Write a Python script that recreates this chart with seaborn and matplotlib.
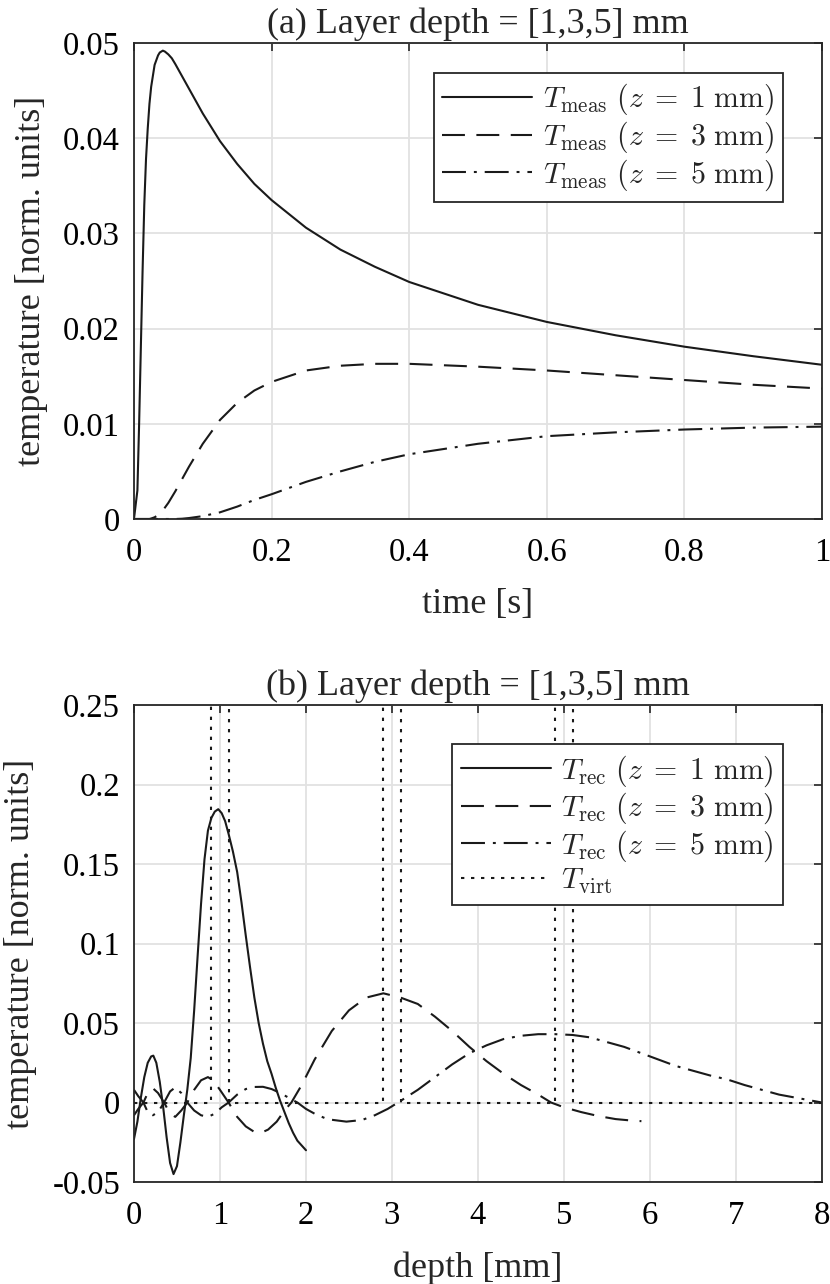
import matplotlib
matplotlib.use('Agg')
import matplotlib.pyplot as plt
import seaborn as sns
import pandas as pd
import numpy as np

time_s = [0, 0.005, 0.0075, 0.01, 0.0125, 0.015, 0.0175, 0.02, 0.0225, 0.025,
          0.03, 0.035, 0.0375, 0.042, 0.045, 0.05, 0.055, 0.06, 0.07, 0.08,
          0.1, 0.125, 0.15, 0.175, 0.2, 0.25, 0.3, 0.35, 0.4, 0.5,
          0.6, 0.7, 0.8, 0.9, 1.0]
t_meas_1mm = [0, 0.003, 0.010, 0.018, 0.026, 0.033, 0.0378, 0.041, 0.0436, 0.0454,
              0.0477, 0.0487, 0.0490, 0.0492, 0.0491, 0.0488, 0.0484, 0.0478, 0.0465, 0.0452,
              0.0426, 0.0397, 0.0373, 0.0352, 0.0335, 0.0306, 0.0283, 0.0265, 0.0249, 0.0225,
              0.0207, 0.0193, 0.0181, 0.0171, 0.0162]
t_meas_3mm = [0, 0, 0, 0, 0, 0, 0, 0, 0, 0.00005,
              0.00018, 0.0004, 0.0006, 0.0009, 0.0012, 0.0017, 0.0023, 0.0029, 0.0042, 0.0055,
              0.0079, 0.0104, 0.0122, 0.0135, 0.0144, 0.0156, 0.0161, 0.0163, 0.0163, 0.0160,
              0.0156, 0.0151, 0.0146, 0.0141, 0.0137]
t_meas_5mm = [0, 0, 0, 0, 0, 0, 0, 0, 0, 0,
              0, 0, 0, 0, 0, 0, 0, 0, 0.00003, 0.0001,
              0.0003, 0.0007, 0.0013, 0.0020, 0.0026, 0.0039, 0.0050, 0.0060, 0.0068, 0.0079,
              0.0087, 0.0091, 0.0094, 0.0096, 0.0097]

# (b) reconstructed temperature vs depth
depth_1mm = [0.0, 0.04, 0.08, 0.12, 0.16, 0.20, 0.225, 0.26, 0.30, 0.34, 0.38, 0.42,
             0.46, 0.50, 0.54, 0.58, 0.62, 0.66, 0.70, 0.74, 0.78, 0.82, 0.86, 0.90,
             0.94, 0.98, 1.02, 1.06, 1.10, 1.15, 1.20, 1.25, 1.30, 1.35, 1.40, 1.45,
             1.50, 1.55, 1.60, 1.65, 1.70, 1.75, 1.80, 1.85, 1.90, 1.95, 2.00]
t_rec_1mm = [-0.023, -0.012, 0.003, 0.016, 0.025, 0.029, 0.0295, 0.025, 0.013, -0.003, -0.022, -0.038,
             -0.045, -0.040, -0.025, -0.008, 0.008, 0.028, 0.058, 0.092, 0.125, 0.153, 0.171, 0.179,
             0.183, 0.1845, 0.182, 0.177, 0.169, 0.158, 0.145, 0.126, 0.105, 0.085, 0.066, 0.050,
             0.037, 0.026, 0.018, 0.009, 0.001, -0.006, -0.013, -0.019, -0.024, -0.027, -0.030]
depth_3mm = [0.0, 0.05, 0.11, 0.16, 0.22, 0.28, 0.35, 0.42, 0.48, 0.55, 0.62, 0.70,
             0.78, 0.86, 0.92, 1.00, 1.10, 1.20, 1.30, 1.40, 1.48, 1.56, 1.66, 1.75,
             1.83, 1.95, 2.1, 2.3, 2.5, 2.7, 2.9, 3.1, 3.3, 3.5, 3.7, 3.9,
             4.1, 4.3, 4.5, 4.7, 4.85, 5.0, 5.2, 5.4, 5.6, 5.8, 5.9]
t_rec_3mm = [-0.008, -0.004, 0.000, 0.006, 0.009, 0.006, 0.000, -0.007, -0.009, -0.005, 0.000, 0.008,
             0.014, 0.016, 0.014, 0.008, 0.000, -0.009, -0.015, -0.0185, -0.019, -0.017, -0.012, -0.005,
             0.000, 0.011, 0.027, 0.045, 0.058, 0.066, 0.0687, 0.066, 0.062, 0.054, 0.045, 0.035,
             0.026, 0.018, 0.011, 0.005, 0.000, -0.003, -0.006, -0.0085, -0.0104, -0.0114, -0.0117]
depth_5mm = [0.0, 0.05, 0.11, 0.16, 0.22, 0.28, 0.35, 0.42, 0.48, 0.55, 0.62, 0.70,
             0.78, 0.86, 0.94, 1.02, 1.10, 1.20, 1.30, 1.40, 1.50, 1.60, 1.70, 1.80,
             1.90, 2.0, 2.1, 2.25, 2.47, 2.65, 2.8, 2.95, 3.07, 3.3, 3.5, 3.7,
             3.9, 4.1, 4.3, 4.5, 4.7, 4.9, 5.1, 5.3, 5.5, 5.7, 5.9, 6.1,
             6.3, 6.5, 6.7, 6.9, 7.1, 7.3, 7.5, 7.7, 7.9, 8.0]
t_rec_5mm = [0.008, 0.004, 0.000, -0.006, -0.008, -0.006, 0.000, 0.007, 0.0095, 0.006, 0.000, -0.005,
             -0.008, -0.009, -0.007, -0.003, 0.000, 0.005, 0.0085, 0.0098, 0.0099, 0.0085, 0.006, 0.003,
             0.000, -0.004, -0.007, -0.0105, -0.012, -0.011, -0.008, -0.004, 0.000, 0.008, 0.016, 0.024,
             0.031, 0.036, 0.040, 0.042, 0.043, 0.043, 0.0425, 0.041, 0.038, 0.035, 0.031, 0.027,
             0.023, 0.020, 0.017, 0.0145, 0.011, 0.008, 0.005, 0.003, 0.001, 0.0]
# virtual (true) layers: thin boxes at 1, 3 and 5 mm
depth_virt = [0, 0.9, 0.9, 1.1, 1.1, 2.9, 2.9, 3.1, 3.1, 4.9, 4.9, 5.1, 5.1, 8]
t_virt = [0, 0, 1, 1, 0, 0, 1, 1, 0, 0, 1, 1, 0, 0]

# ticks
ticks_a_x = [0, 0.2, 0.4, 0.6, 0.8, 1]
labels_a_x = ['0', '0.2', '0.4', '0.6', '0.8', '1']
ticks_a_y = [0, 0.01, 0.02, 0.03, 0.04, 0.05]
labels_a_y = ['0', '0.01', '0.02', '0.03', '0.04', '0.05']
ticks_b_x = [0, 1, 2, 3, 4, 5, 6, 7, 8]
labels_b_x = ['0', '1', '2', '3', '4', '5', '6', '7', '8']
ticks_b_y = [-0.05, 0, 0.05, 0.1, 0.15, 0.2, 0.25]
labels_b_y = ['-0.05', '0', '0.05', '0.1', '0.15', '0.2', '0.25']

sns.set_theme(style='whitegrid')
plt.rcParams['font.family'] = ['Liberation Serif', 'DejaVu Serif']
plt.rcParams['mathtext.fontset'] = 'cm'

LW = 1.5
DASH = (11, 5.5)
DASHDOT = (11.5, 3.8, 1.4, 3.8)
DOT = (1.6, 3.2)
TICK_FS = 23.5
LABEL_FS = 26
LEG_FS = 21.5

fig = plt.figure(figsize=(8.3, 12.84), dpi=100)
ax1 = fig.add_axes([0.1614, 0.5958, 0.8290, 0.3707])
ax2 = fig.add_axes([0.1614, 0.0794, 0.8290, 0.3715])


def style_axes(ax, xt, xl, yt, yl, xlim, ylim):
    ax.set_xlim(*xlim)
    ax.set_ylim(*ylim)
    ax.set_xticks(xt)
    ax.set_xticklabels(xl)
    ax.set_yticks(yt)
    ax.set_yticklabels(yl)
    ax.set_facecolor('white')
    ax.grid(True, color='#e2e2e2', linewidth=1.3)
    ax.tick_params(direction='in', top=True, right=True, length=6, width=1.2,
                   color='#262626', labelsize=TICK_FS, labelcolor='black')
    ax.tick_params(axis='y', pad=10)
    ax.tick_params(axis='x', pad=13)
    for s in ax.spines.values():
        s.set_visible(True)
        s.set_color('#262626')
        s.set_linewidth(1.3)


def add_legend(ax, anchor):
    leg = ax.legend(loc='upper right', bbox_to_anchor=anchor, borderaxespad=0,
                    fontsize=LEG_FS, handlelength=3.0, handletextpad=0.35, labelspacing=0.08,
                    borderpad=0.3, fancybox=False, framealpha=1, edgecolor='#262626')
    leg.get_frame().set_linewidth(1.3)


# panel (a)
df_a = pd.DataFrame({'t': time_s, 'z1': t_meas_1mm, 'z3': t_meas_3mm, 'z5': t_meas_5mm})
sns.lineplot(data=df_a, x='t', y='z1', ax=ax1, color='k', lw=LW, estimator=None, sort=False,
             label=r'$T_{\rm meas}\ (z \;=\; 1\ {\rm mm})$')
sns.lineplot(data=df_a, x='t', y='z3', ax=ax1, color='k', lw=LW, estimator=None, sort=False,
             label=r'$T_{\rm meas}\ (z \;=\; 3\ {\rm mm})$')
ax1.lines[-1].set_dashes(DASH)
sns.lineplot(data=df_a, x='t', y='z5', ax=ax1, color='k', lw=LW, estimator=None, sort=False,
             label=r'$T_{\rm meas}\ (z \;=\; 5\ {\rm mm})$')
ax1.lines[-1].set_dashes(DASHDOT)
style_axes(ax1, ticks_a_x, labels_a_x, ticks_a_y, labels_a_y, (0, 1), (0, 0.05))
ax1.set_title('(a) Layer depth = [1,3,5] mm', fontsize=LABEL_FS, pad=7)
ax1.set_xlabel('time [s]', fontsize=LABEL_FS, labelpad=15)
ax1.set_ylabel('temperature [norm. units]', fontsize=LABEL_FS, labelpad=11)
add_legend(ax1, (0.943, 0.937))

# panel (b)
sns.lineplot(x=depth_1mm, y=t_rec_1mm, ax=ax2, color='k', lw=LW, estimator=None, sort=False,
             label=r'$T_{\rm rec}\ (z \;=\; 1\ {\rm mm})$')
sns.lineplot(x=depth_3mm, y=t_rec_3mm, ax=ax2, color='k', lw=LW, estimator=None, sort=False,
             label=r'$T_{\rm rec}\ (z \;=\; 3\ {\rm mm})$')
ax2.lines[-1].set_dashes(DASH)
sns.lineplot(x=depth_5mm, y=t_rec_5mm, ax=ax2, color='k', lw=LW, estimator=None, sort=False,
             label=r'$T_{\rm rec}\ (z \;=\; 5\ {\rm mm})$')
ax2.lines[-1].set_dashes(DASHDOT)
sns.lineplot(x=depth_virt, y=t_virt, ax=ax2, color='k', lw=LW, estimator=None, sort=False,
             label=r'$T_{\rm virt}$')
ax2.lines[-1].set_dashes(DOT)
style_axes(ax2, ticks_b_x, labels_b_x, ticks_b_y, labels_b_y, (0, 8), (-0.05, 0.25))
ax2.set_title('(b) Layer depth = [1,3,5] mm', fontsize=LABEL_FS, pad=7)
ax2.set_xlabel('depth [mm]', fontsize=LABEL_FS, labelpad=15)
ax2.set_ylabel('temperature [norm. units]', fontsize=LABEL_FS, labelpad=11)
add_legend(ax2, (0.943, 0.918))

fig.savefig('out.png', dpi=100, facecolor='white')
